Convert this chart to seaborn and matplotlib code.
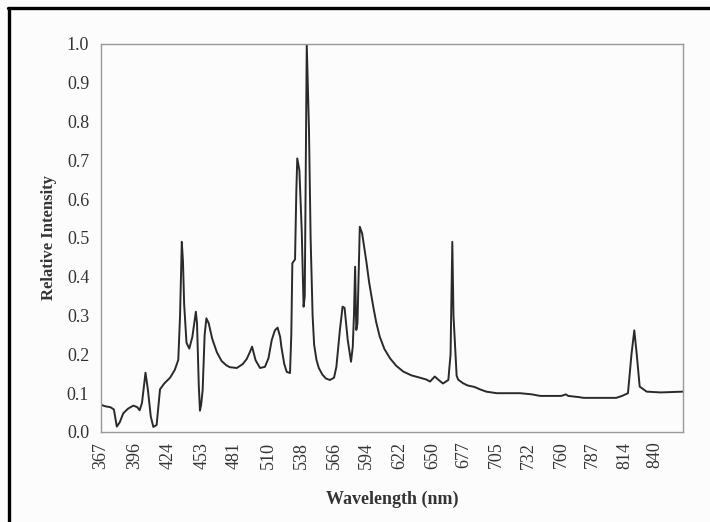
import numpy as np
import pandas as pd
import matplotlib
matplotlib.use("Agg")
import matplotlib.pyplot as plt
from matplotlib.lines import Line2D
import seaborn as sns

# spectrum
wavelength_nm = [367, 371, 375, 378, 380.5, 383, 386, 390, 394.6, 398, 400, 402, 405, 407, 409.5,
                 411.7, 414.5, 417.4, 421, 426, 430, 433, 434.5, 436, 437, 438, 440, 442.4, 445,
                 448, 449, 450.5, 451.5, 452.5, 453.8, 455.5, 457, 459, 462, 466, 470, 474, 477,
                 483, 488, 491.4, 494, 496, 499, 502.8, 507, 510, 512.8, 515.5, 517.8, 520, 521,
                 523.5, 525.6, 528.4, 529.5, 530.4, 532.7, 533.8, 534.6, 536.4, 538.4, 540, 541,
                 542.7, 544.6, 546, 547.7, 549, 551, 553, 556, 559, 562.5, 566, 568, 571, 573.3,
                 575, 577.7, 580.5, 582, 583, 584, 585, 586, 588, 590, 593.8, 596, 599.5, 602,
                 605, 609, 613.8, 619, 625, 632, 639.4, 645, 648, 652, 655, 659, 663.6, 665.5,
                 667, 668, 670.7, 672, 676, 680, 686, 690.6, 696, 705, 724.8, 735, 742, 760, 764,
                 766, 775, 779, 807, 812, 817, 820, 822.4, 824.5, 827, 833, 845, 864]
intensity = [0.07, 0.066, 0.064, 0.058, 0.014, 0.025, 0.048, 0.060, 0.068, 0.064, 0.056, 0.075,
             0.153, 0.11, 0.04, 0.013, 0.018, 0.11, 0.125, 0.14, 0.16, 0.186, 0.3, 0.49, 0.44,
             0.33, 0.23, 0.215, 0.245, 0.31, 0.28, 0.12, 0.055, 0.07, 0.108, 0.25, 0.293, 0.28,
             0.24, 0.205, 0.183, 0.172, 0.167, 0.165, 0.175, 0.188, 0.205, 0.22, 0.185, 0.165,
             0.168, 0.19, 0.237, 0.262, 0.269, 0.245, 0.22, 0.175, 0.155, 0.152, 0.25, 0.435,
             0.445, 0.62, 0.705, 0.675, 0.52, 0.323, 0.35, 1.0, 0.78, 0.5, 0.3, 0.225, 0.186,
             0.165, 0.148, 0.138, 0.134, 0.14, 0.168, 0.263, 0.323, 0.32, 0.237, 0.181, 0.22,
             0.3, 0.426, 0.263, 0.28, 0.529, 0.512, 0.435, 0.385, 0.323, 0.283, 0.246, 0.214,
             0.19, 0.171, 0.156, 0.146, 0.14, 0.135, 0.13, 0.143, 0.135, 0.125, 0.134, 0.2,
             0.49, 0.3, 0.145, 0.135, 0.126, 0.12, 0.116, 0.11, 0.104, 0.1, 0.1, 0.097, 0.093,
             0.093, 0.097, 0.093, 0.09, 0.088, 0.088, 0.093, 0.1, 0.2, 0.262, 0.2, 0.117, 0.104,
             0.102, 0.104]

x_tick_labels = [367, 396, 424, 453, 481, 510, 538, 566, 594, 622, 650, 677, 705, 732, 760, 787, 814, 840]
y_ticks = [0.0, 0.1, 0.2, 0.3, 0.4, 0.5, 0.6, 0.7, 0.8, 0.9, 1.0]

df = pd.DataFrame({"wavelength": wavelength_nm, "intensity": intensity})

sns.set_style("white")
plt.rcParams["font.family"] = ["Liberation Serif", "DejaVu Serif"]

fig = plt.figure(figsize=(7.1, 5.22), dpi=100, facecolor="#fcfcfc")
ax = fig.add_axes([101 / 710, 1 - 432 / 522, (683 - 101) / 710, (432 - 44) / 522])
ax.set_facecolor("#fcfcfc")

sns.lineplot(data=df, x="wavelength", y="intensity", color="#2a2a2a", linewidth=1.4, ax=ax)

ax.set_xlim(367, 864)
ax.set_ylim(0, 1.0)

# labels (no tick marks) at the wavelength values, tick marks on their own grid
ax.set_xticks(x_tick_labels)
ax.set_xticklabels([str(v) for v in x_tick_labels], rotation=90, fontsize=13, color="#333333")
ax.set_xticks(np.arange(367, 864, 24.4), minor=True)
ax.tick_params(axis="x", which="major", length=0, pad=7)
ax.tick_params(axis="x", which="minor", direction="inout", length=7, width=1, color="#888888")

ax.set_yticks(y_ticks)
ax.set_yticklabels([f"{v:.1f}" for v in y_ticks], fontsize=13, color="#333333")
ax.tick_params(axis="y", which="major", direction="inout", length=7, width=1, color="#888888", pad=5)

for s in ax.spines.values():
    s.set_color("#999999")
    s.set_linewidth(1.0)

ax.set_xlabel("Wavelength (nm)", fontsize=13, fontweight="bold", color="#333333", labelpad=16)
ax.set_ylabel("Relative Intensity", fontsize=12, fontweight="bold", color="#333333", labelpad=7)

# black frame of the scanned figure (top and left)
fig.add_artist(Line2D([8 / 710, 1.0], [1 - 8 / 522, 1 - 8 / 522], color="black", linewidth=2.4,
                      transform=fig.transFigure))
fig.add_artist(Line2D([9 / 710, 9 / 710], [0.0, 1 - 8 / 522], color="black", linewidth=2.4,
                      transform=fig.transFigure))

fig.savefig("out.png", dpi=100, facecolor=fig.get_facecolor())
